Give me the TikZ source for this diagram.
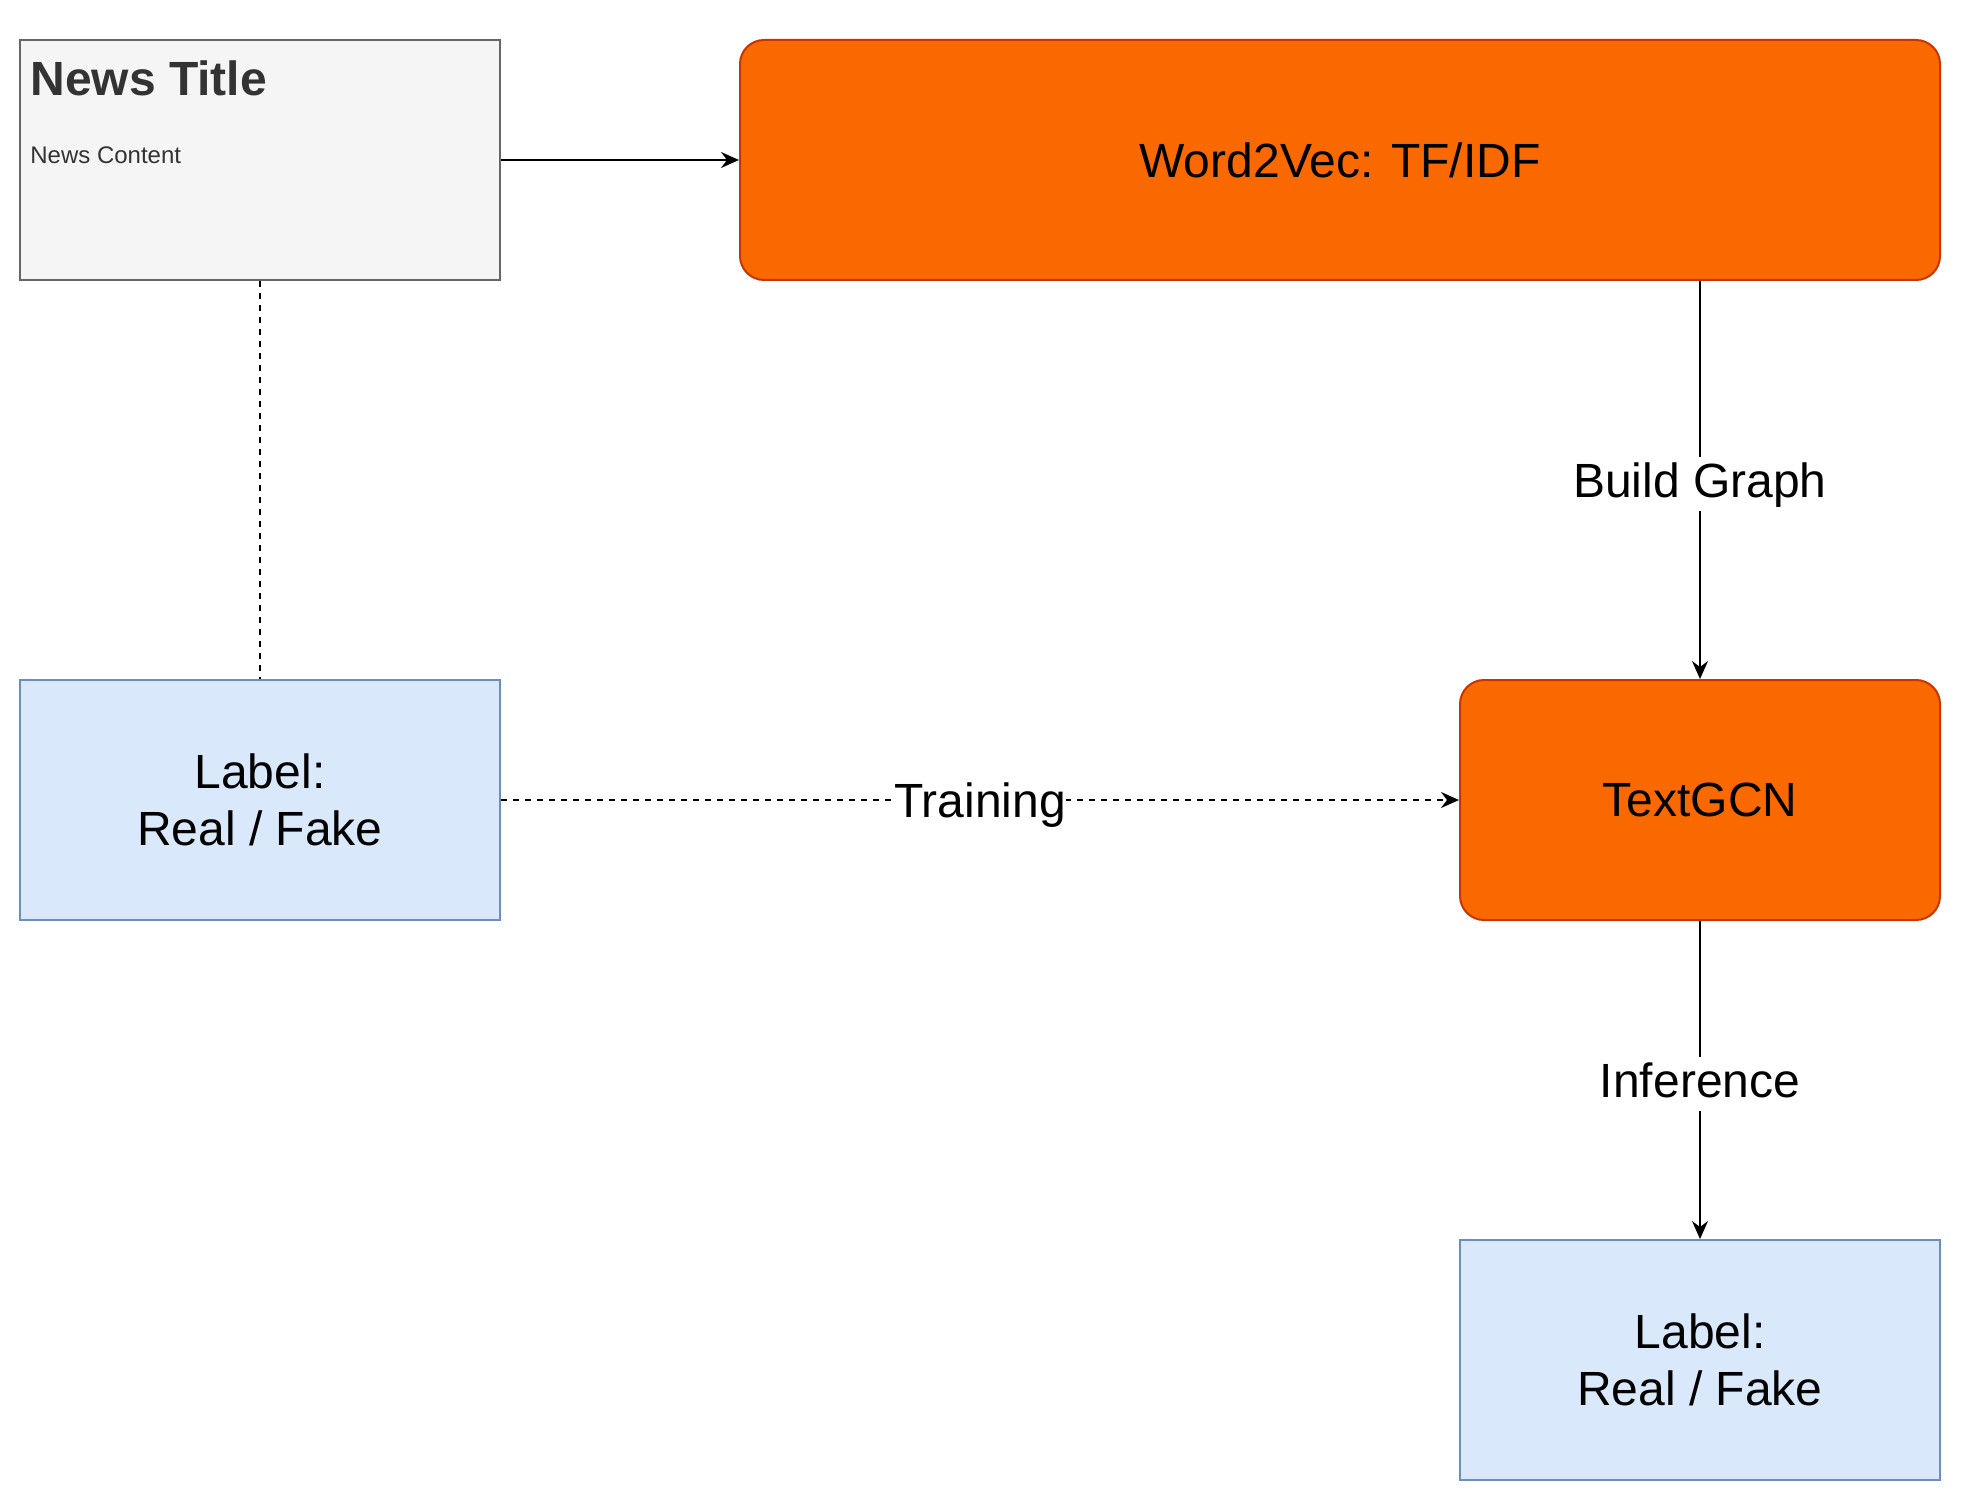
\documentclass[tikz,border=0pt]{standalone}
\usepackage{fontspec}
\setmainfont{Liberation Sans}
\usetikzlibrary{arrows.meta}

\definecolor{newsfill}{HTML}{F5F5F5}
\definecolor{newsline}{HTML}{666666}
\definecolor{newstext}{HTML}{333333}
\definecolor{modelfill}{HTML}{FA6800}
\definecolor{modelline}{HTML}{C73500}
\definecolor{labelfill}{HTML}{DAE8FC}
\definecolor{labelline}{HTML}{6C8EBF}

\tikzset{
  newsbox/.style={draw=newsline, fill=newsfill, line width=1pt, minimum width=240pt, minimum height=120pt, inner sep=0pt},
  modelbox/.style={draw=modelline, fill=modelfill, line width=1pt, rounded corners=12pt, minimum height=120pt, font=\fontsize{24}{28.8}\selectfont},
  labelbox/.style={draw=labelline, fill=labelfill, line width=1pt, minimum width=240pt, minimum height=120pt, align=center, font=\fontsize{24}{28.8}\selectfont},
  flow/.style={line width=1pt, -{Stealth[length=9pt,width=8pt,inset=3pt]}},
  dashflow/.style={flow, dash pattern=on 3pt off 3pt},
  edgetext/.style={fill=white, inner sep=2pt, text height=18pt, text depth=5pt, yshift=-2pt, font=\fontsize{24}{28.8}\selectfont},
}

\begin{document}
\begin{tikzpicture}[x=1pt,y=-1pt]
    \useasboundingbox (0,0) rectangle (981,751);

    % Draw the news card
    \node[newsbox] (news) at (130,80) {};
    \node[anchor=base west, text=newstext, inner sep=0pt, font=\fontsize{24}{28.8}\selectfont\bfseries] (newstitle) at (15,48) {News Title};
    \node[anchor=base west, text=newstext, inner sep=0pt, font=\fontsize{12}{14.4}\selectfont] (newscontent) at (15,82) {News Content};

    % Draw the model boxes
    \node[modelbox, minimum width=600pt] (w2v) at (670,80) {Word2Vec: TF/IDF};
    \node[modelbox, minimum width=240pt] (gcn) at (850,400) {TextGCN};

    % Draw the label boxes
    \node[labelbox] (trainlabel) at (130,400) {Label:\\Real / Fake};
    \node[labelbox] (result) at (850,680) {Label:\\Real / Fake};

    % Draw the connectors
    \draw[flow] (news) -- (w2v);
    \draw[line width=1pt, dash pattern=on 3pt off 3pt] (news) -- (trainlabel);
    \draw[flow] (w2v.south -| gcn.north) -- node[edgetext] {Build Graph} (gcn.north);
    \draw[dashflow] (trainlabel) -- node[edgetext, inner sep=0pt] {Training} (gcn);
    \draw[flow] (gcn) -- node[edgetext] {Inference} (result);
\end{tikzpicture}
\end{document}
